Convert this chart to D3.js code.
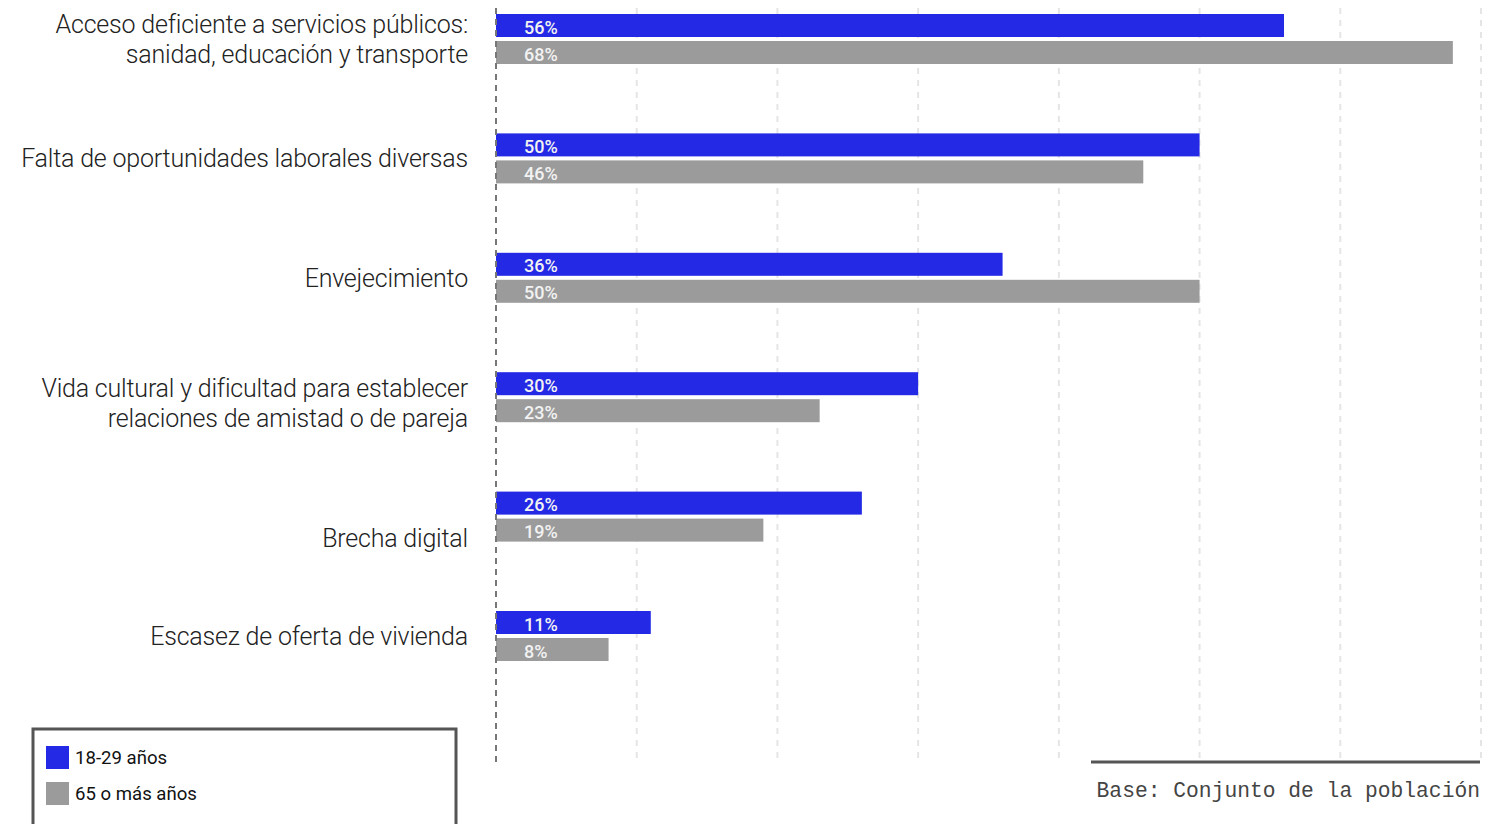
<!DOCTYPE html>
<html>
<head>
<meta charset="utf-8">
<script src="https://d3js.org/d3.v7.min.js"></script>
<style>
  body { margin: 0; background: #fff; }
  svg { display: block; font-family: Roboto, sans-serif; }
</style>
</head>
<body>
<svg id="chart" width="1495" height="824"></svg>
<script>
// categories (each entry = label lines)
var categories = [
  ["Acceso deficiente a servicios públicos:", "sanidad, educación y transporte"],
  ["Falta de oportunidades laborales diversas"],
  ["Envejecimiento"],
  ["Vida cultural y dificultad para establecer", "relaciones de amistad o de pareja"],
  ["Brecha digital"],
  ["Escasez de oferta de vivienda"]
];
var seriesNames = ["18-29 años", "65 o más años"];
var young = [56, 50, 36, 30, 26, 11];
var old = [68, 46, 50, 23, 19, 8];
var gridTicks = [0, 10, 20, 30, 40, 50, 60, 70];
var colors = ["#2329e5", "#9b9b9b"];

var svg = d3.select("#chart");

// scales
var x = d3.scaleLinear().domain([0, 70]).range([496, 1481]);
var y = d3.scaleBand()
  .domain(d3.range(categories.length))
  .range([14, 14 + 119.4 * 6]);
var barH = 23, barGap = 4;

// labels in the original sit a bit lower for a couple of rows
var labelNudge = {3: 6, 4: 21};

// gridlines
svg.append("g")
  .selectAll("line")
  .data(gridTicks.slice(1))
  .enter().append("line")
    .attr("x1", d => x(d)).attr("x2", d => x(d))
    .attr("y1", 8).attr("y2", 762)
    .attr("stroke", "#e5e5e5")
    .attr("stroke-width", 2)
    .attr("stroke-dasharray", "6,6");

// bars
var groups = svg.append("g")
  .selectAll("g")
  .data(categories)
  .enter().append("g")
    .attr("transform", (d, i) => "translate(0," + y(i) + ")");

[young, old].forEach(function (vals, s) {
  groups.append("rect")
    .attr("x", x(0))
    .attr("y", s * (barH + barGap))
    .attr("width", (d, i) => x(vals[i]) - x(0))
    .attr("height", barH)
    .attr("fill", colors[s]);
  groups.append("text")
    .attr("x", 524)
    .attr("y", s * (barH + barGap) + barH / 2 + 8)
    .attr("fill", "#f2f2f2")
    .style("font-size", "18px")
    .style("font-weight", 500)
    .text((d, i) => vals[i] + "%");
});

// category labels
groups.append("text")
  .attr("text-anchor", "end")
  .attr("x", 468)
  .style("font-size", "25px")
  .style("font-weight", 300)
  .style("letter-spacing", "-0.2px")
  .attr("fill", "#222")
  .each(function (d, i) {
    var t = d3.select(this);
    var mid = barH + barGap / 2 + (labelNudge[i] || 0);
    d.forEach(function (line, k) {
      t.append("tspan")
        .attr("x", 468)
        .attr("y", mid + 9 + (k - (d.length - 1) / 2) * 29.5)
        .text(line);
    });
  });

// zero axis (dashed)
svg.append("line")
  .attr("x1", x(0)).attr("x2", x(0))
  .attr("y1", 8).attr("y2", 762)
  .attr("stroke", "#777")
  .attr("stroke-width", 2)
  .attr("stroke-dasharray", "6,5");

// base note
svg.append("line")
  .attr("x1", 1091).attr("x2", 1480)
  .attr("y1", 762).attr("y2", 762)
  .attr("stroke", "#555").attr("stroke-width", 3);
svg.append("text")
  .attr("x", 1480).attr("y", 797)
  .attr("text-anchor", "end")
  .style("font-family", "'Courier New', 'Liberation Mono', monospace")
  .style("font-size", "21.3px")
  .attr("fill", "#444")
  .text("Base: Conjunto de la población");

// legend
var legend = svg.append("g");
legend.append("rect")
  .attr("x", 33).attr("y", 729)
  .attr("width", 423).attr("height", 120)
  .attr("fill", "none")
  .attr("stroke", "#555").attr("stroke-width", 3);
seriesNames.forEach(function (name, s) {
  legend.append("rect")
    .attr("x", 46).attr("y", 746 + s * 36)
    .attr("width", 23).attr("height", 23)
    .attr("fill", colors[s]);
  legend.append("text")
    .attr("x", 75).attr("y", 764 + s * 36)
    .style("font-size", "18.6px")
    .attr("fill", "#111")
    .text(name);
});
</script>
</body>
</html>
